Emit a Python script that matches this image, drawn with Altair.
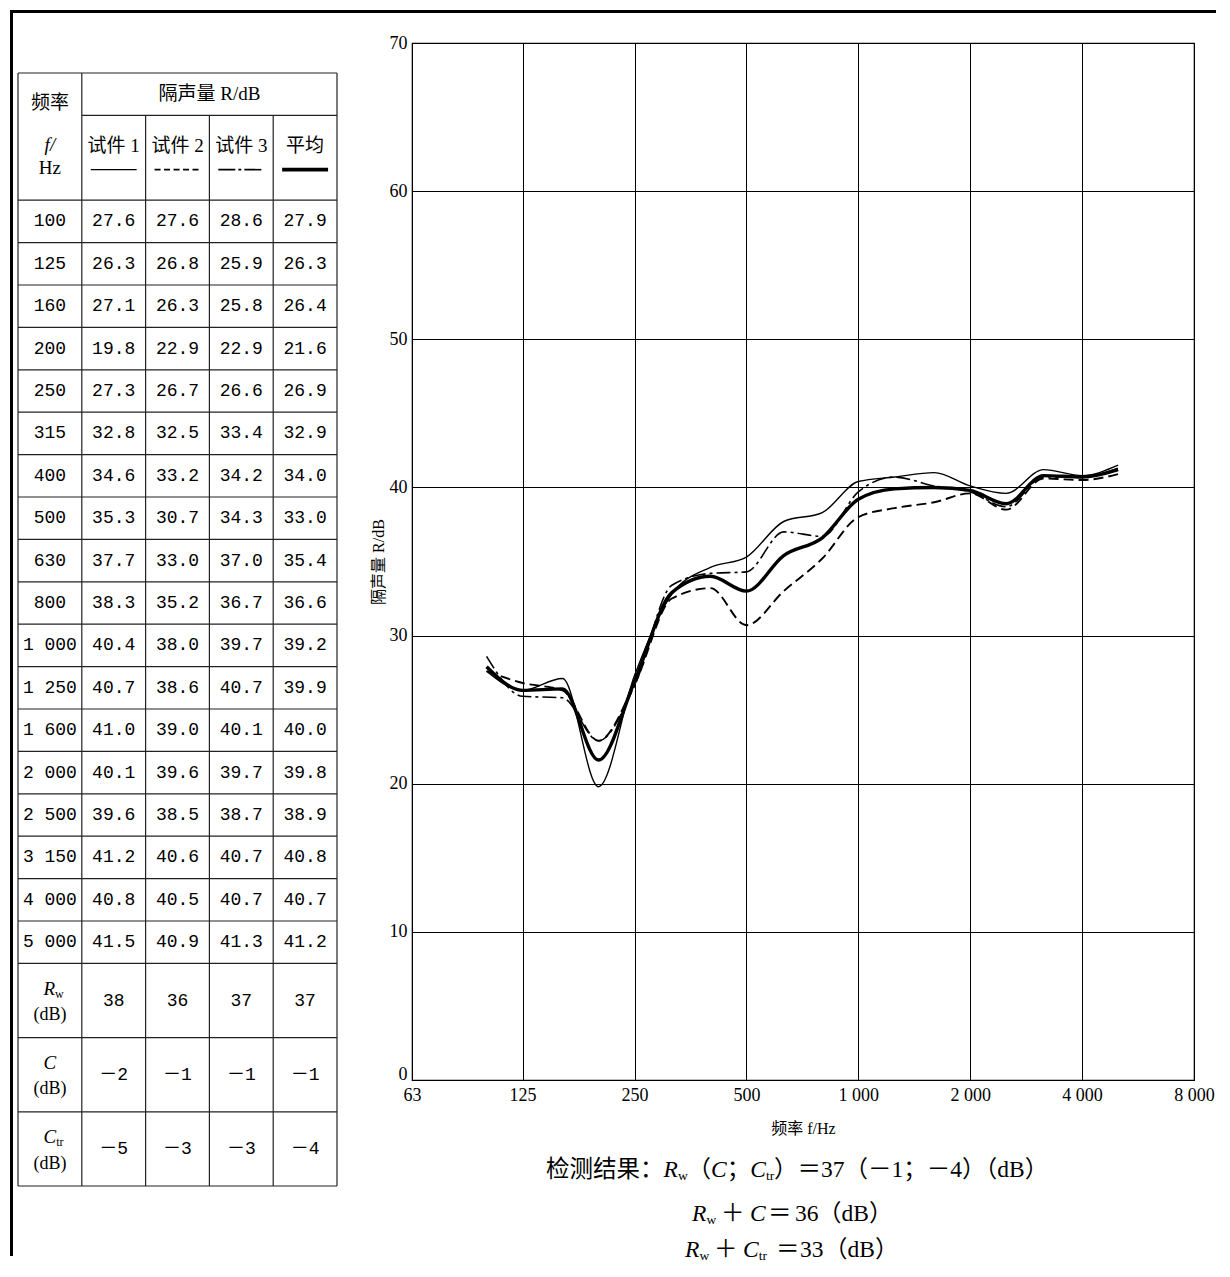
import altair as alt
import pandas as pd

# ---------------- data ----------------
freqs = [100, 125, 160, 200, 250, 315, 400, 500, 630, 800, 1000, 1250, 1600, 2000, 2500, 3150, 4000, 5000]
freq_labels = ["100", "125", "160", "200", "250", "315", "400", "500", "630", "800",
               "1 000", "1 250", "1 600", "2 000", "2 500", "3 150", "4 000", "5 000"]
test1 = [27.6, 26.3, 27.1, 19.8, 27.3, 32.8, 34.6, 35.3, 37.7, 38.3, 40.4, 40.7, 41.0, 40.1, 39.6, 41.2, 40.8, 41.5]
test2 = [27.6, 26.8, 26.3, 22.9, 26.7, 32.5, 33.2, 30.7, 33.0, 35.2, 38.0, 38.6, 39.0, 39.6, 38.5, 40.6, 40.5, 40.9]
test3 = [28.6, 25.9, 25.8, 22.9, 26.6, 33.4, 34.2, 34.3, 37.0, 36.7, 39.7, 40.7, 40.1, 39.7, 38.7, 40.7, 40.7, 41.3]
average = [27.9, 26.3, 26.4, 21.6, 26.9, 32.9, 34.0, 33.0, 35.4, 36.6, 39.2, 39.9, 40.0, 39.8, 38.9, 40.8, 40.7, 41.2]
series_names = ["试件 1", "试件 2", "试件 3", "平均"]
rw_values = [38, 36, 37, 37]
c_values = [-2, -1, -1, -1]
ctr_values = [-5, -3, -3, -4]
x_tick_values = [63, 125, 250, 500, 1000, 2000, 4000, 8000]
y_tick_values = [0, 10, 20, 30, 40, 50, 60, 70]

# ---------------- layout / style ----------------
SERIF = "Liberation Serif, Noto Sans CJK SC"
MONO = "Liberation Mono, Noto Sans CJK SC"
PX0, PY0 = 412, 43          # page position of the plot area
W, H = 782, 1037
INK = "black"

line_styles = {
    "试件 1": dict(strokeWidth=1.4),
    "试件 2": dict(strokeWidth=1.9, strokeDash=[10, 5]),
    "试件 3": dict(strokeWidth=1.6, strokeDash=[14, 4, 3, 4]),
    "平均": dict(strokeWidth=3.4),
}
legend_styles = {
    "试件 1": dict(strokeWidth=1.4),
    "试件 2": dict(strokeWidth=1.6, strokeDash=[6, 3.5]),
    "试件 3": dict(strokeWidth=1.6, strokeDash=[17, 3, 3, 3]),
    "平均": dict(strokeWidth=3.6),
}

# ---------------- plot ----------------
series_values = [test1, test2, test3, average]
long_df = pd.DataFrame(
    [{"freq": f, "value": v, "series": name}
     for name, vals in zip(series_names, series_values)
     for f, v in zip(freqs, vals)]
)

xscale = alt.Scale(type="log", base=2, domain=[63, 8000], nice=False)
yscale = alt.Scale(type="linear", domain=[0, 70], nice=False, zero=False)

x_axis = alt.Axis(
    values=x_tick_values, grid=True, gridColor=INK, gridOpacity=1, gridWidth=1,
    ticks=False, domain=False, labelFlush=False, labelOverlap=False,
    labelExpr="replace(format(datum.value, ','), ',', ' ')",
    labelFont=SERIF, labelFontSize=18, labelColor=INK, labelPadding=6,
    title="频率 f/Hz", titleFont=SERIF, titleFontSize=16, titleFontWeight="normal",
    titleColor=INK, titlePadding=16,
)
y_axis = alt.Axis(
    values=y_tick_values, grid=True, gridColor=INK, gridOpacity=1, gridWidth=1,
    ticks=False, domain=False, labelFlush=False, labelOverlap=False,
    labelOffset={"condition": {"test": "datum.value === 0", "value": -6}, "value": 0},
    labelFont=SERIF, labelFontSize=18, labelColor=INK, labelPadding=5,
    title="隔声量 R/dB", titleFont=SERIF, titleFontSize=16, titleFontWeight="normal",
    titleColor=INK, titlePadding=3,
)

plot_layers = []
for name in series_names:
    plot_layers.append(
        alt.Chart(long_df)
        .transform_filter(alt.datum.series == name)
        .mark_line(color=INK, interpolate="monotone", **line_styles[name])
        .encode(
            x=alt.X("freq:Q", scale=xscale, axis=x_axis),
            y=alt.Y("value:Q", scale=yscale, axis=y_axis),
        )
    )
plot = alt.layer(*plot_layers)

# ---------------- table ----------------
N = len(freqs)
HEAD = 3.0
BOT = 1.75
TBL_H = HEAD + N + 3 * BOT
tx = alt.Scale(domain=[0, 5], range=[18 - PX0, 337 - PX0], nice=False, zero=False)
ty = alt.Scale(domain=[0, TBL_H], range=[73 - PY0, 1186 - PY0], nice=False, zero=False)

hr = [{"y": 0, "x0": 0, "x1": 5}, {"y": 1, "x0": 1, "x1": 5}]
hr += [{"y": HEAD + i, "x0": 0, "x1": 5} for i in range(N + 1)]
hr += [{"y": HEAD + N + BOT * k, "x0": 0, "x1": 5} for k in (1, 2, 3)]
vr = [{"x": c, "y0": (0 if c in (0, 1, 5) else 1), "y1": TBL_H} for c in range(6)]

h_rules = alt.Chart(pd.DataFrame(hr)).mark_rule(color="#222", strokeWidth=1.2).encode(
    x=alt.X("x0:Q", scale=tx, axis=None), x2="x1:Q",
    y=alt.Y("y:Q", scale=ty, axis=None))
v_rules = alt.Chart(pd.DataFrame(vr)).mark_rule(color="#222", strokeWidth=1.2).encode(
    x=alt.X("x:Q", scale=tx, axis=None),
    y=alt.Y("y0:Q", scale=ty, axis=None), y2="y1:Q")


def tbl_text(rows, font=SERIF, size=18, style="normal", align="center", dx=0, dy=0):
    return alt.Chart(pd.DataFrame(rows)).mark_text(
        font=font, fontSize=size, fontStyle=style, align=align, baseline="middle",
        color=INK, dx=dx, dy=dy,
    ).encode(
        x=alt.X("x:Q", scale=tx, axis=None),
        y=alt.Y("y:Q", scale=ty, axis=None),
        text="t:N",
    )


head_cjk = [
    {"x": 0.5, "y": 0.71, "t": "频率"},
    {"x": 3.0, "y": 0.5, "t": "隔声量 R/dB"},
] + [{"x": 1.5 + k, "y": 1.72, "t": name} for k, name in enumerate(series_names)]
head_hz = [{"x": 0.5, "y": 2.24, "t": "Hz"}]
head_italic = [{"x": 0.5, "y": 1.70, "t": "f/"}]

num_rows = []
for i in range(N):
    yc = HEAD + i + 0.5
    num_rows.append({"x": 0.5, "y": yc, "t": freq_labels[i]})
    for k, vals in enumerate(series_values):
        num_rows.append({"x": 1.5 + k, "y": yc, "t": f"{vals[i]:.1f}"})


def signed(v):
    return f"－{abs(v)}" if v < 0 else str(v)


bot_top = [HEAD + N + BOT * k for k in range(3)]
for k in range(4):
    num_rows.append({"x": 1.5 + k, "y": bot_top[0] + BOT / 2, "t": str(rw_values[k])})
    num_rows.append({"x": 1.5 + k, "y": bot_top[1] + BOT / 2, "t": signed(c_values[k])})
    num_rows.append({"x": 1.5 + k, "y": bot_top[2] + BOT / 2, "t": signed(ctr_values[k])})

unit_rows = [{"x": 0.5, "y": t + 1.22, "t": "(dB)"} for t in bot_top]
main_right = [{"x": 0.58, "y": bot_top[0] + 0.6, "t": "R"},
              {"x": 0.60, "y": bot_top[2] + 0.6, "t": "C"}]
main_center = [{"x": 0.5, "y": bot_top[1] + 0.6, "t": "C"}]
sub_rows = [{"x": 0.58, "y": bot_top[0] + 0.6, "t": "w"},
            {"x": 0.60, "y": bot_top[2] + 0.6, "t": "tr"}]

legend_layers = []
for k, name in enumerate(series_names):
    legend_layers.append(
        alt.Chart(pd.DataFrame([{"x0": 1.14 + k, "x1": 1.86 + k, "y": 2.28}]))
        .mark_rule(color=INK, **legend_styles[name])
        .encode(x=alt.X("x0:Q", scale=tx, axis=None), x2="x1:Q",
                y=alt.Y("y:Q", scale=ty, axis=None))
    )

table = alt.layer(
    h_rules, v_rules,
    tbl_text(head_cjk, size=19),
    tbl_text(head_hz, size=19),
    tbl_text(head_italic, size=19, style="italic"),
    tbl_text(num_rows, font=MONO, size=18),
    tbl_text(unit_rows, size=18),
    tbl_text(main_right, style="italic", size=19, align="right"),
    tbl_text(main_center, style="italic", size=19),
    tbl_text(sub_rows, size=12, align="left", dy=5),
    *legend_layers,
)

# ---------------- frame & result text (page coordinates) ----------------
px = alt.Scale(domain=[0, 1230], range=[-PX0, 1230 - PX0], nice=False, zero=False)
py = alt.Scale(domain=[0, 1277], range=[-PY0, 1277 - PY0], nice=False, zero=False)

frame = alt.Chart(pd.DataFrame([
    {"x0": 10, "x1": 1216, "y0": 11.5, "y1": 11.5},
    {"x0": 11.5, "x1": 11.5, "y0": 10, "y1": 1256},
])).mark_rule(color=INK, strokeWidth=3).encode(
    x=alt.X("x0:Q", scale=px, axis=None), x2="x1:Q",
    y=alt.Y("y0:Q", scale=py, axis=None), y2="y1:Q")

L1, L2, L3 = 1170, 1214, 1250
res_normal = [
    ("检测结果：", 546, L1), ("（", 687.6, L1), ("；", 726.7, L1),
    ("）＝37（－1；－4）（dB）", 774.1, L1),
    ("＋", 721, L2), ("＝", 768, L2), ("36", 795, L2), ("（dB）", 818, L2),
    ("＋", 714, L3), ("＝", 776, L3), ("33", 800, L3), ("（dB）", 824, L3),
]
res_italic = [("R", 663.5, L1), ("C", 711.1, L1), ("C", 750.2, L1),
              ("R", 692, L2), ("C", 750, L2),
              ("R", 685, L3), ("C", 743, L3)]
res_sub = [("w", 677.9, L1), ("tr", 765.9, L1), ("w", 706.4, L2), ("w", 699.4, L3), ("tr", 758.7, L3)]


def res_text(items, size, style="normal", dy=0):
    df = pd.DataFrame([{"t": t, "x": x, "y": y} for t, x, y in items])
    return alt.Chart(df).mark_text(
        font=SERIF, fontSize=size, fontStyle=style, align="left", baseline="middle",
        color=INK, dy=dy,
    ).encode(
        x=alt.X("x:Q", scale=px, axis=None),
        y=alt.Y("y:Q", scale=py, axis=None),
        text="t:N",
    )


annot = alt.layer(
    frame,
    res_text(res_normal, 23.5),
    res_text(res_italic, 23.5, style="italic"),
    res_text(res_sub, 13.5, dy=6),
)

chart = (
    alt.layer(plot, table, annot)
    .resolve_scale(x="independent", y="independent")
    .properties(width=W, height=H, padding=0, background="white")
    .configure_view(stroke=INK, strokeWidth=1.2)
)

chart.save("out.html", embed_options={"renderer": "svg", "actions": False})
